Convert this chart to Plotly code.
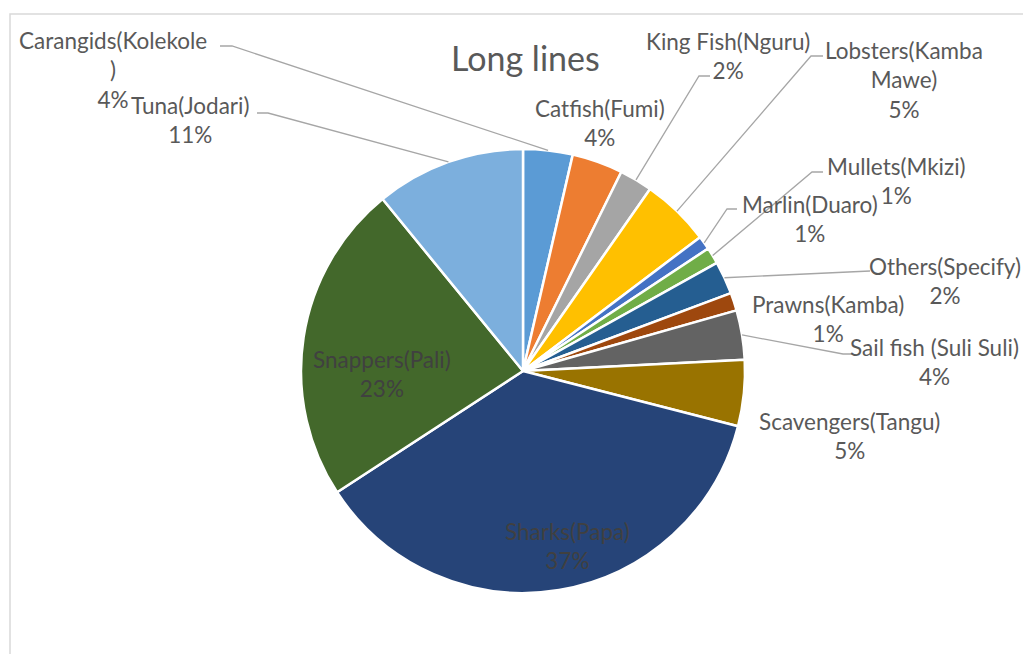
import math
import plotly.graph_objects as go

# Long-line catch composition (share of total catch, %)
species = [
    "Carangids(Kolekole)", "Catfish(Fumi)", "King Fish(Nguru)",
    "Lobsters(Kamba Mawe)", "Marlin(Duaro)", "Mullets(Mkizi)",
    "Others(Specify)", "Prawns(Kamba)", "Sail fish (Suli Suli)",
    "Scavengers(Tangu)", "Sharks(Papa)", "Snappers(Pali)", "Tuna(Jodari)",
]
share = [3.6, 3.7, 2.4, 5.0, 1.0, 1.2, 2.4, 1.3, 3.6, 4.8, 36.8, 23.3, 10.9]

colors = [
    "#5B9BD5", "#ED7D31", "#A5A5A5", "#FFC000", "#4472C4", "#70AD47",
    "#255E91", "#9E480E", "#636363", "#997300", "#264478", "#43682B",
    "#7CAFDD",
]

W, H = 1023, 654
CX, CY, R = 523, 371, 222          # pie centre and radius in pixels
FONT = "Lato"
TXT = "#595959"
LINE = "#A6A6A6"

# how long names wrap inside their label boxes
wrapped = {
    "Carangids(Kolekole)": "Carangids(Kolekole<br>)",
    "Lobsters(Kamba Mawe)": "Lobsters(Kamba<br>Mawe)",
}

# label box centre (px) and leader start/elbow (px) for each slice
label_pos = {
    "Carangids(Kolekole)": (113, 70, (220, 46), (232, 46)),
    "Catfish(Fumi)": (600, 123, None, None),
    "King Fish(Nguru)": (728, 56, (710, 76), (699, 76)),
    "Lobsters(Kamba Mawe)": (904, 80, (823, 56), (811, 56)),
    "Marlin(Duaro)": (810, 219, (737, 209), (727, 209)),
    "Mullets(Mkizi)": (896, 181, (823, 172), (812, 172)),
    "Others(Specify)": (945, 281, (870, 271), None),
    "Prawns(Kamba)": (828, 319, None, None),
    "Sail fish (Suli Suli)": (934, 362, (852, 354), (843, 354)),
    "Scavengers(Tangu)": (849, 436, None, None),
    "Sharks(Papa)": (567, 546, None, None),
    "Snappers(Pali)": (382, 374, None, None),
    "Tuna(Jodari)": (190, 120, (257, 113), (268, 113)),
}
inside = {"Sharks(Papa)", "Snappers(Pali)"}


def px(x, y):
    return x / W, 1 - y / H


fig = go.Figure(go.Pie(
    labels=species,
    values=share,
    sort=False,
    direction="clockwise",
    rotation=0,
    marker=dict(colors=colors, line=dict(color="white", width=2.5)),
    textinfo="none",
    hoverinfo="label+percent",
    showlegend=False,
    domain=dict(
        x=[(CX - R) / W, (CX + R) / W],
        y=[1 - (CY + R) / H, 1 - (CY - R) / H],
    ),
))

total = sum(share)
annotations = []
shapes = []
cum = 0.0
for name, v in zip(species, share):
    mid = (cum + v / 2) / total * 2 * math.pi
    cum += v
    ex, ey = CX + R * math.sin(mid), CY - R * math.cos(mid)
    lx, ly, start, elbow = label_pos[name]
    pct = f"{int(v / total * 100 + 0.5)}%"
    text = f"{wrapped.get(name, name)}<br>{pct}"
    ax, ay = px(lx, ly)
    annotations.append(dict(
        x=ax, y=ay, xref="paper", yref="paper", text=text, showarrow=False,
        align="center", xanchor="center", yanchor="middle",
        font=dict(family=FONT, size=22.5,
                  color="#404040" if name in inside else TXT),
    ))
    if start is not None:
        pts = [start] + ([elbow] if elbow else []) + [(ex, ey)]
        path = "M " + " L ".join(
            f"{px(x, y)[0]:.5f},{px(x, y)[1]:.5f}" for x, y in pts)
        shapes.append(dict(type="path", xref="paper", yref="paper",
                           path=path, line=dict(color=LINE, width=1.3)))

# chart-area frame
shapes.append(dict(type="rect", xref="paper", yref="paper",
                   x0=px(10, 0)[0], x1=px(1030, 0)[0],
                   y0=px(0, 660)[1], y1=px(0, 14)[1],
                   line=dict(color="#D9D9D9", width=1.5)))

annotations.append(dict(
    x=px(525, 0)[0], y=px(0, 57)[1], xref="paper", yref="paper",
    text="Long lines", showarrow=False, xanchor="center", yanchor="middle",
    font=dict(family=FONT, size=34, color=TXT),
))

fig.update_layout(
    width=W, height=H,
    margin=dict(l=0, r=0, t=0, b=0),
    paper_bgcolor="white",
    plot_bgcolor="white",
    annotations=annotations,
    shapes=shapes,
)

fig.write_html("out.html")
